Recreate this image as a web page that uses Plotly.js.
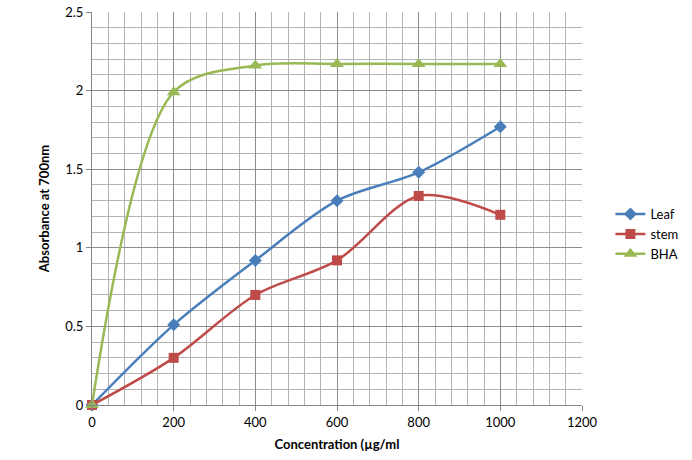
<!DOCTYPE html>
<html>
<head>
<meta charset="utf-8">
<script src="https://cdn.plot.ly/plotly-3.0.1.min.js"></script>
<style>html,body{margin:0;padding:0;background:#fff;}#chart{width:692px;height:460px;}</style>
</head>
<body>
<div id="chart"></div>
<script>
const concentration = [0, 200, 400, 600, 800, 1000];
const leaf = [0, 0.51, 0.92, 1.30, 1.48, 1.77];
const stem = [0, 0.30, 0.70, 0.92, 1.33, 1.21];
const bha = [0, 1.99, 2.16, 2.17, 2.17, 2.17];
const seriesNames = ["Leaf", "stem", "BHA"];
const xTickVals = [0, 200, 400, 600, 800, 1000, 1200];
const yTickVals = [0, 0.5, 1, 1.5, 2, 2.5];
const yTickText = ["0", "0.5", "1", "1.5", "2", "2.5"];

const FONT = "Lato, 'Liberation Sans', sans-serif";
function tr(y, name, color, symbol, size) {
  return {
    x: concentration, y: y, name: name, type: "scatter", mode: "lines+markers",
    line: {color: color, width: 2.5, shape: "spline", smoothing: 0.9},
    marker: {color: color, symbol: symbol, size: size},
    cliponaxis: false
  };
}
const data = [
  tr(leaf, seriesNames[0], "#4A7EBB", "diamond", 10),
  tr(stem, seriesNames[1], "#BE4B48", "square", 10),
  tr(bha, seriesNames[2], "#98B954", "triangle-up", 12)
];
const layout = {
  width: 692, height: 460,
  margin: {l: 92, r: 110, t: 12, b: 55, autoexpand: false},
  paper_bgcolor: "#fff", plot_bgcolor: "#fff",
  font: {family: FONT, size: 13, color: "#000"},
  showlegend: true,
  legend: {x: 1.058, y: 0.435, xanchor: "left", yanchor: "middle", font: {size: 13, family: FONT}, tracegroupgap: 0, itemwidth: 30},
  xaxis: {
    range: [0, 1200], tickvals: xTickVals, ticktext: xTickVals.map(String),
    showgrid: true, gridcolor: "#8C8C8C", gridwidth: 1,
    minor: {dtick: 40, tick0: 0, showgrid: true, gridcolor: "#B4B4B4", gridwidth: 1},
    showline: true, linecolor: "#868686", linewidth: 1,
    ticks: "outside", ticklen: 5, tickcolor: "#868686",
    zeroline: false, tickfont: {size: 13}, automargin: false,
    title: {text: "<b>Concentration (µg/ml</b>", font: {size: 13}, standoff: 11}
  },
  yaxis: {
    range: [0, 2.5], tickvals: yTickVals, ticktext: yTickText,
    showgrid: true, gridcolor: "#8C8C8C", gridwidth: 1,
    minor: {dtick: 0.1, tick0: 0, showgrid: true, gridcolor: "#B4B4B4", gridwidth: 1},
    showline: true, linecolor: "#868686", linewidth: 1,
    ticks: "outside", ticklen: 5, tickcolor: "#868686",
    zeroline: false, tickfont: {size: 13}, automargin: false,
    title: {text: "<b>Absorbance at 700nm</b>", font: {size: 13}, standoff: 12}
  }
};
Plotly.newPlot("chart", data, layout, {displayModeBar: false, staticPlot: true});
</script>
</body>
</html>
